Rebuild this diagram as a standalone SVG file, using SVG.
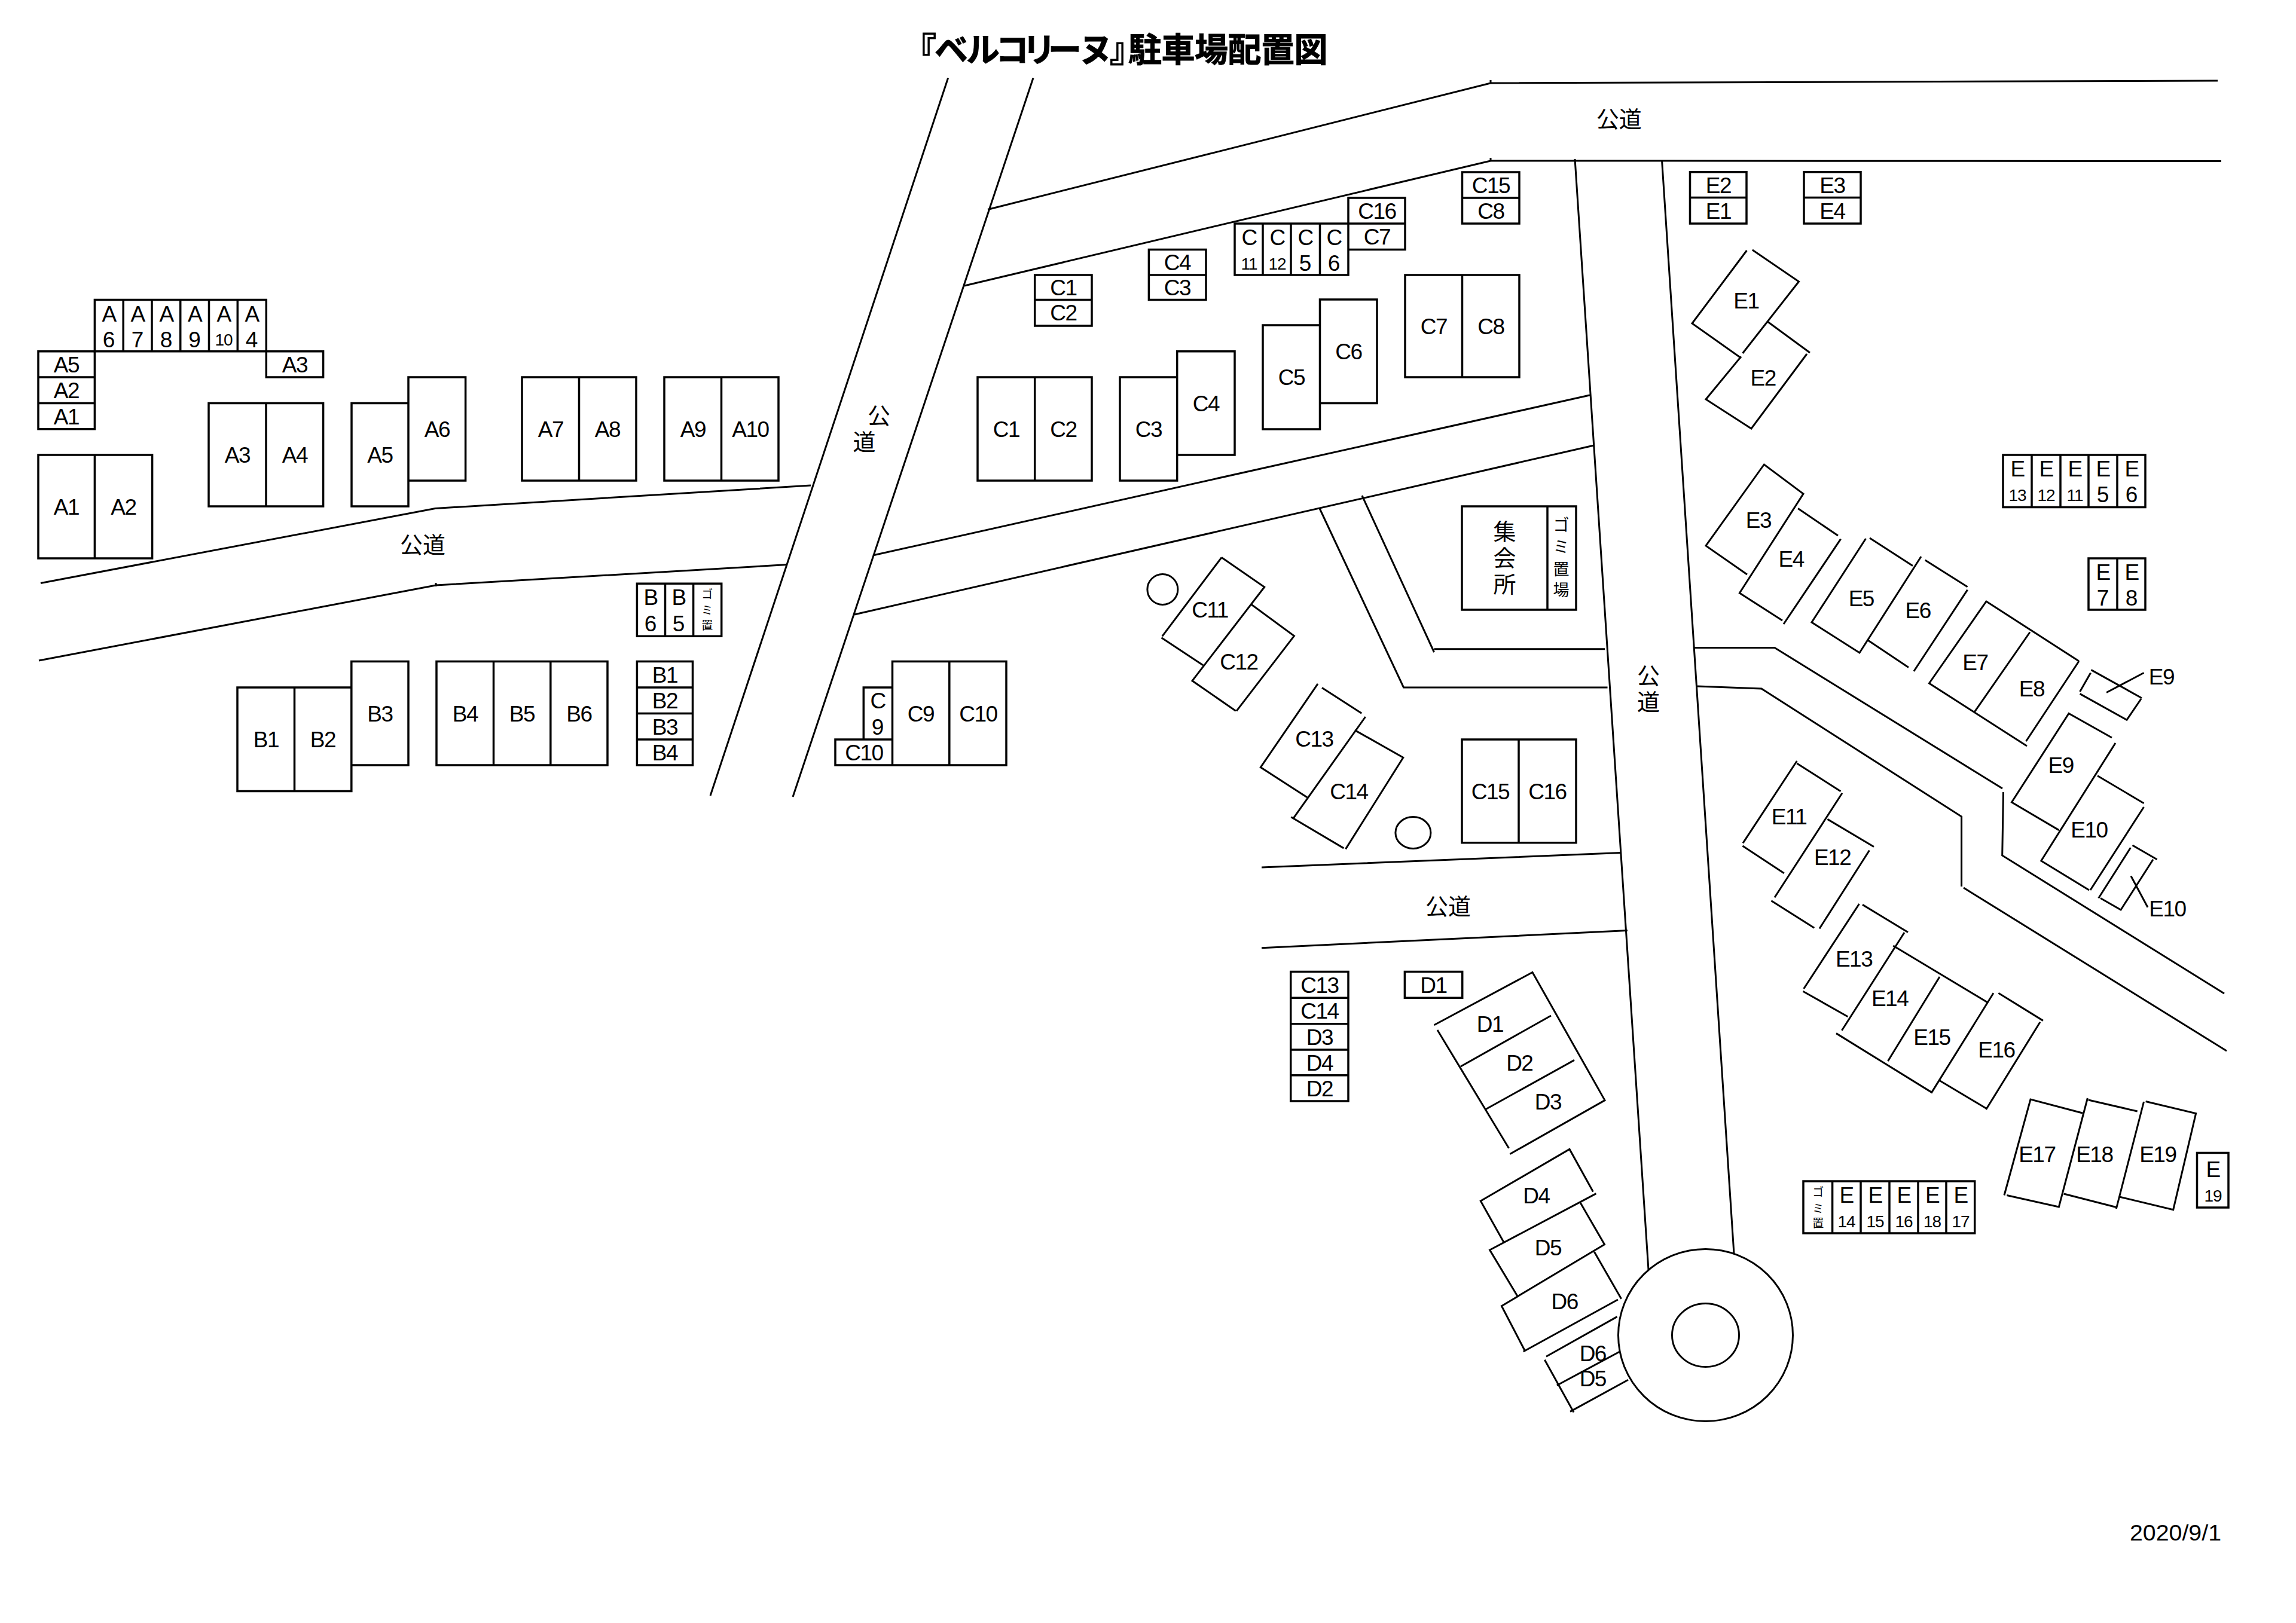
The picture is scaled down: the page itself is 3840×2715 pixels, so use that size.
<svg xmlns="http://www.w3.org/2000/svg" width="3840" height="2715" viewBox="0 0 3840 2715">
<style>
.b{fill:none;stroke:#000;stroke-width:3.5}
.l{fill:none;stroke:#000;stroke-width:3}
text{font-family:"Liberation Sans","Noto Sans CJK JP",sans-serif;fill:#000;text-anchor:middle}
.t{font-size:37px;letter-spacing:-1.5px}
.n{font-size:37px}
.s{font-size:28px;letter-spacing:-1px}
.j{font-family:"Noto Sans CJK JP","Liberation Sans",sans-serif;font-size:38px}
.g{font-family:"Noto Sans CJK JP","Liberation Sans",sans-serif;font-size:27px}
.h{font-family:"Noto Sans CJK JP","Liberation Sans",sans-serif;font-size:19px}
</style>
<rect width="3840" height="2715" fill="#fff"/>
<text id="title" x="1510 1563 1616 1665 1710 1753 1805 1856 1887 1942.500 1998 2053.500 2109 2164.500" y="103" style="font-family:'Noto Sans CJK JP',sans-serif;font-weight:700;font-size:56px;text-anchor:start;stroke:#000;stroke-width:1">『ベルコリーヌ』駐車場配置図</text>
<text id="date" x="3562" y="2577" textLength="153" lengthAdjust="spacingAndGlyphs" style="font-family:'Liberation Sans',sans-serif;font-size:37px;text-anchor:start">2020/9/1</text>
<g transform="translate(0,1)">
<g id="roads">
<path class="l" d="M1585.600 129.500L1188 1330M1728 129.500L1326 1332"/>
<path class="l" d="M68 974.500L728 849.500L1356 811M65 1104L729 978L1317 943.500M729 974V980"/>
<path class="l" d="M1652 349.500L2493 138L3709 134M1613 477L2493 268L3715 268.500M2493 133V138M2493 263V268"/>
<path class="l" d="M2634 265L2757 2123M2779.500 267L2900 2096"/>
<path class="l" d="M1460 928L2659 660M1429 1027L2666 744"/>
<path class="l" d="M2207 849.500L2347.500 1149L2688.500 1149M2278 828L2398.500 1090M2398.500 1084.700L2684 1084.700"/>
<path class="l" d="M2110 1450L2711 1425.500M2110 1584.700L2722 1555.600"/>
<path class="l" d="M2833 1082.500L2968 1082.500L3349 1318M3350.500 1324L3348.700 1430L3720 1661"/>
<path class="l" d="M2839 1147L2946 1151L3280.600 1365V1482M3284 1484L3724 1757"/>
<ellipse class="l" cx="1944.400" cy="985" rx="25.500" ry="25.500"/>
<ellipse class="l" cx="2363.400" cy="1392" rx="29.500" ry="26.500"/>
<ellipse class="l" cx="2852.500" cy="2232.500" rx="146" ry="144" style="fill:#fff"/>
<ellipse class="l" cx="2852.500" cy="2232.500" rx="56" ry="53"/>
</g>
<g id="A-stack">
<path class="b" d="M158.400 500.600H445.300V586.700H158.400ZM206.200 500.600V586.700M254 500.600V586.700M301.700 500.600V586.700M349.500 500.600V586.700M397.300 500.600V586.700"/>
<path class="b" d="M64 586.700H158.400V716.800H64ZM64 630H158.400M64 673.500H158.400M445.300 586.700H540.600V630H445.300Z"/>
<text class="t" x="182" y="537">A</text><text class="n" x="182" y="580">6</text>
<text class="t" x="230" y="537">A</text><text class="n" x="230" y="580">7</text>
<text class="t" x="278" y="537">A</text><text class="n" x="278" y="580">8</text>
<text class="t" x="325.500" y="537">A</text><text class="n" x="325.500" y="580">9</text>
<text class="t" x="374" y="537">A</text><text class="s" x="374" y="577">10</text>
<text class="t" x="421" y="537">A</text><text class="n" x="421" y="580">4</text>
<text class="t" x="111" y="622">A5</text><text class="t" x="111" y="665">A2</text><text class="t" x="111" y="709">A1</text>
<text class="t" x="493" y="622">A3</text>
</g>
<g id="A1-A2"><path class="b" d="M64 760H254.600V933H64ZM158.400 760V933"/><text class="t" x="111" y="860">A1</text><text class="t" x="206.500" y="860">A2</text></g>
<g id="A3-A4"><path class="b" d="M349 673.500H540.600V846H349ZM445 673.500V846"/><text class="t" x="397" y="773">A3</text><text class="t" x="493" y="773">A4</text></g>
<g id="A5-A6"><path class="b" d="M588 673.500H683V846H588ZM683 630H778.600V803H683Z"/><text class="t" x="635.500" y="773">A5</text><text class="t" x="731" y="730">A6</text></g>
<g id="A7-A8"><path class="b" d="M873 630H1064V803H873ZM968.500 630V803"/><text class="t" x="921" y="730">A7</text><text class="t" x="1016" y="730">A8</text></g>
<g id="A9-A10"><path class="b" d="M1111 630H1302V803H1111ZM1206.500 630V803"/><text class="t" x="1159" y="730">A9</text><text class="t" x="1255" y="730">A10</text></g>
<g id="B-stack">
<path class="b" d="M1065.400 975.300H1206.700V1063.300H1065.400ZM1112.500 975.300V1063.300M1159.600 975.300V1063.300"/>
<text class="t" x="1088" y="1011">B</text><text class="n" x="1088" y="1055">6</text>
<text class="t" x="1135" y="1011">B</text><text class="n" x="1135" y="1055">5</text>
<text class="h" x="1182.700 1182.700 1182.700" y="1000 1027 1052">ゴミ置</text>
<path class="b" d="M1065.400 1105.400H1158.500V1279H1065.400ZM1065.400 1149H1158.500M1065.400 1192.600H1158.500M1065.400 1236H1158.500"/>
<text class="t" x="1112" y="1140.500">B1</text><text class="t" x="1112" y="1184">B2</text><text class="t" x="1112" y="1227.500">B3</text><text class="t" x="1112" y="1271">B4</text>
</g>
<g id="B1-B3"><path class="b" d="M397 1149H587.800V1322.400H397ZM492.500 1149V1322.400M587.800 1105.400H683V1279H587.800Z"/><text class="t" x="445" y="1249">B1</text><text class="t" x="540" y="1249">B2</text><text class="t" x="635.500" y="1205.500">B3</text></g>
<g id="B4-B6"><path class="b" d="M730 1105.400H1016V1279H730ZM825.500 1105.400V1279M920.800 1105.400V1279"/><text class="t" x="778" y="1205.500">B4</text><text class="t" x="873" y="1205.500">B5</text><text class="t" x="968.500" y="1205.500">B6</text></g>
<g id="C9-C10"><path class="b" d="M1492.500 1105.400H1683V1279H1397V1236H1444.300V1149H1492.500ZM1492.500 1105.400V1279M1587.800 1105.400V1279M1397 1236H1492.500"/>
<text class="t" x="1468" y="1184">C</text><text class="n" x="1468" y="1228">9</text><text class="t" x="1445" y="1271">C10</text><text class="t" x="1540" y="1205.500">C9</text><text class="t" x="1636" y="1205.500">C10</text></g>
<g id="C1-C2"><path class="b" d="M1635 630H1826V803H1635ZM1730.700 630V803"/><text class="t" x="1683" y="730">C1</text><text class="t" x="1778.500" y="730">C2</text></g>
<g id="C3-C4"><path class="b" d="M1873 630H1968.700V803H1873ZM1968.700 586.700H2065V760H1968.700Z"/><text class="t" x="1921" y="730">C3</text><text class="t" x="2017" y="687">C4</text></g>
<g id="C5-C6"><path class="b" d="M2112 543H2207.500V717H2112ZM2207.500 500H2303V673.500H2207.500Z"/><text class="t" x="2160" y="643">C5</text><text class="t" x="2255.500" y="600">C6</text></g>
<g id="C7-C8"><path class="b" d="M2350 459H2541V630H2350ZM2445.500 459V630"/><text class="t" x="2398" y="558">C7</text><text class="t" x="2493.500" y="558">C8</text></g>
<g id="C-stack">
<path class="b" d="M1730.700 459H1826V544H1730.700ZM1730.700 500.600H1826M1921.400 416.500H2017V500.600H1921.400ZM1921.400 459H2017"/>
<text class="t" x="1778.500" y="493">C1</text><text class="t" x="1778.500" y="535">C2</text><text class="t" x="1969" y="451">C4</text><text class="t" x="1969" y="493">C3</text>
<path class="b" d="M2065 373H2255V459H2065ZM2112 373V459M2159 373V459M2207.500 373V459M2255 330H2350V416.500H2255ZM2255 373H2350M2445.500 287H2541V373H2445.500ZM2445.500 330H2541"/>
<text class="t" x="2089" y="409">C</text><text class="s" x="2089" y="450">11</text>
<text class="t" x="2136" y="409">C</text><text class="s" x="2136" y="450">12</text>
<text class="t" x="2183" y="409">C</text><text class="n" x="2183" y="452">5</text>
<text class="t" x="2231" y="409">C</text><text class="n" x="2231" y="452">6</text>
<text class="t" x="2303" y="365">C16</text><text class="t" x="2303" y="408">C7</text><text class="t" x="2493.500" y="322">C15</text><text class="t" x="2493.500" y="365">C8</text>
</g>
<g id="hall"><path class="b" d="M2445 846H2636V1019H2445ZM2588 846V1019"/>
<text class="j" x="2516.500 2516.500 2516.500" y="902 946 990">集会所</text>
<text class="g" x="2611 2611 2611 2611" y="887 924 961 996">ゴミ置場</text></g>
<g id="C15-C16"><path class="b" d="M2445 1236H2636V1408.700H2445ZM2540 1236V1408.700"/><text class="t" x="2492.500" y="1336">C15</text><text class="t" x="2588" y="1336">C16</text></g>
<g id="C11-C12"><path class="l" d="M2043 931.600L1943.800 1063.300M2043 931.600L2114.700 981L1994 1137.800L2066.800 1188.300M1942.500 1065.800L2012 1111.700M2093.600 1010.700L2164.400 1062.800L2068 1188.300"/><text class="t" x="2023.500" y="1032">C11</text><text class="t" x="2072" y="1119">C12</text></g>
<g id="C13-C14"><path class="l" d="M2204 1142.900L2108.300 1282.600L2186 1332.700M2211 1149.500L2277.300 1192.300M2283.700 1198L2163.800 1366.800M2265.800 1220.400L2346.800 1266.300L2250.500 1419.400M2159.300 1365.800L2247.300 1417.900"/><text class="t" x="2198" y="1248">C13</text><text class="t" x="2256" y="1335.500">C14</text></g>
<g id="street-labels">
<text class="j" x="707" y="924">公道</text><text class="j" x="2707.700" y="212">公道</text><text class="j" x="2422" y="1529">公道</text>
<text class="j" x="1470 1445.400" y="708 752">公道</text>
<text class="j" x="2757 2757" y="1143 1187">公道</text>
</g>
<g id="D-stack"><path class="b" d="M2158.700 1624.400H2255V1841H2158.700ZM2158.700 1668.300H2255M2158.700 1711.700H2255M2158.700 1755H2255M2158.700 1797.800H2255M2349.400 1624.400H2445.700V1668.300H2349.400Z"/>
<text class="t" x="2207" y="1660">C13</text><text class="t" x="2207" y="1703">C14</text><text class="t" x="2207" y="1747">D3</text><text class="t" x="2207" y="1790">D4</text><text class="t" x="2207" y="1833">D2</text><text class="t" x="2397.500" y="1660">D1</text></g>
<g id="D1-D3"><path class="l" d="M2398.500 1713.800L2563 1625.500L2684 1839.600L2525.400 1929.500M2404 1722L2523.500 1919.800M2594 1698L2443 1783M2633 1772.400L2484.600 1854.700"/><text class="t" x="2492" y="1724.500">D1</text><text class="t" x="2541.300" y="1789.500">D2</text><text class="t" x="2589" y="1854.500">D3</text></g>
<g id="D4-D6"><path class="l" d="M2515 2077L2476.300 2008L2625 1921.400L2664.400 1992.400M2669.500 1995.700L2491.600 2090L2537.500 2166.400M2642.700 2010.300L2683.500 2080.800L2511.400 2183.700L2550.300 2258.500M2666.300 2093L2711.600 2171.800M2705.900 2173L2547.700 2260"/><text class="t" x="2569.400" y="2012">D4</text><text class="t" x="2589" y="2098.500">D5</text><text class="t" x="2616.600" y="2189">D6</text></g>
<g id="D5-D6-small"><path class="l" d="M2704.600 2201.600L2586 2268.300M2709 2260L2603.800 2316.500M2723 2307.300L2626 2360.400M2583.400 2273.700L2632 2361.500"/><text class="t" x="2663.800" y="2275.500">D6</text><text class="t" x="2663.800" y="2318">D5</text></g>
<g id="E-stack"><path class="b" d="M2826.500 286.700H2921V373H2826.500ZM2826.500 329.500H2921M3017 286.700H3112V373H3017ZM3017 329.500H3112"/>
<text class="t" x="2874" y="322">E2</text><text class="t" x="2874" y="365">E1</text><text class="t" x="3064.500" y="322">E3</text><text class="t" x="3064.500" y="365">E4</text>
<path class="b" d="M3350 760H3588V847.400H3350ZM3398 760V847.400M3446 760V847.400M3493 760V847.400M3541 760V847.400M3493 933H3588V1019H3493ZM3541 933V1019"/>
<text class="t" x="3374" y="796">E</text><text class="s" x="3374" y="837">13</text><text class="t" x="3422" y="796">E</text><text class="s" x="3422" y="837">12</text><text class="t" x="3470" y="796">E</text><text class="s" x="3470" y="837">11</text><text class="t" x="3517" y="796">E</text><text class="n" x="3517" y="839">5</text><text class="t" x="3565" y="796">E</text><text class="n" x="3565" y="839">6</text>
<text class="t" x="3517" y="969">E</text><text class="n" x="3517" y="1012">7</text><text class="t" x="3565" y="969">E</text><text class="n" x="3565" y="1012">8</text>
<path class="b" d="M3016 1975H3302.700V2062H3016ZM3064.600 1975V2062M3112 1975V2062M3160 1975V2062M3208 1975V2062M3255 1975V2062M3674.500 1927.600H3727V2019H3674.500Z"/>
<text class="h" x="3040.700 3040.700 3040.700" y="2000 2028 2052">ゴミ置</text>
<text class="t" x="3088" y="2011">E</text><text class="s" x="3088" y="2052">14</text><text class="t" x="3136" y="2011">E</text><text class="s" x="3136" y="2052">15</text><text class="t" x="3184" y="2011">E</text><text class="s" x="3184" y="2052">16</text><text class="t" x="3231.500" y="2011">E</text><text class="s" x="3231.500" y="2052">18</text><text class="t" x="3279" y="2011">E</text><text class="s" x="3279" y="2052">17</text>
<text class="t" x="3701" y="1968">E</text><text class="s" x="3701" y="2009">19</text></g>
<g id="E1-E2"><path class="l" d="M2921.400 418L2830 540L2912 598M2930.800 417L3008.500 470L2914.500 590M2912 595.400L2853 667L2929 716L3022 591M3027 589L2955.500 536.500"/><text class="t" x="2920.500" y="515">E1</text><text class="t" x="2948.700" y="643.500">E2</text></g>
<g id="E3-E4"><path class="l" d="M2922 960L2853 912L2950.400 776L3016 825L2909.400 991L2981 1037M2983 1043L3078.600 900.700M3074 895L3007 849.500"/><text class="t" x="2941" y="882">E3</text><text class="t" x="2995.700" y="946.500">E4</text></g>
<g id="E5-E6"><path class="l" d="M3199 945.600L3127 899M3120.500 900L3030 1040L3110 1091L3213 930M3219.700 936L3290.600 980.700M3290.600 985.600L3200.800 1122M3124 1070L3192 1115.500"/><text class="t" x="3112.800" y="1012.500">E5</text><text class="t" x="3207.700" y="1032.500">E6</text></g>
<g id="E7-E8"><path class="l" d="M3477 1105L3322 1005L3226.500 1142L3390 1247M3395 1056.500L3302.700 1189.400M3477 1105L3388.500 1239"/><text class="t" x="3303.400" y="1119.500">E7</text><text class="t" x="3398" y="1163.500">E8</text></g>
<g id="E9-small"><path class="l" d="M3497.400 1119.600L3582 1166.700M3496.600 1124.600L3478.600 1156M3478.600 1159.600L3557 1203.300L3581 1168M3523 1157.500L3585.500 1124.500"/><text class="t" x="3615" y="1143.500">E9</text></g>
<g id="E9-E10"><path class="l" d="M3532 1233L3460 1192.400L3364.500 1341L3443.400 1387.600M3538 1242L3413.800 1439L3494 1488M3496 1488L3585.500 1349M3585.500 1342.700L3508 1296.700"/><text class="t" x="3446.600" y="1292">E9</text><text class="t" x="3494" y="1399.500">E10</text></g>
<g id="E10-small"><path class="l" d="M3563.400 1417L3509.700 1501.500M3566.500 1413L3607.600 1436.700M3601 1436.700L3547 1521L3513 1501.500M3564 1464.500L3592 1516.700"/><text class="t" x="3625" y="1531.500">E10</text></g>
<g id="E11-E12"><path class="l" d="M3005.300 1272L2915 1409.400M3005.300 1276L3078.500 1322.700M2914.400 1414L2983.800 1459.700M3081 1325.800L2968 1500.300M3056.400 1369.400L3134 1415.500M3126.500 1421.500L3043 1552.400M2962.400 1505.800L3034.300 1551.200"/><text class="t" x="2992" y="1378">E11</text><text class="t" x="3064.600" y="1446">E12</text></g>
<g id="E13-E16"><path class="l" d="M3109.500 1511L3016.700 1653M3115 1512.400L3191 1558.500M3015.400 1657.300L3090.500 1699.700M3185 1559L3080.400 1722.700M3166.300 1581L3323.500 1675.500M3071 1727.600L3230.700 1826.400L3334 1660.300M3244 1633L3157.500 1774M3342.400 1660.300L3417 1706.400M3412 1708.800L3321.600 1855M3244.600 1807L3321.600 1853"/><text class="t" x="3100.600" y="1616">E13</text><text class="t" x="3160.600" y="1681.500">E14</text><text class="t" x="3231" y="1746.500">E15</text><text class="t" x="3339" y="1767.500">E16</text></g>
<g id="E17-E19"><path class="l" d="M3352 1998.500L3396 1838L3483 1861M3356.300 1998.500L3443.400 2018L3491.400 1836M3492.700 1839L3574.700 1858M3451.600 1996L3539.400 2018.500M3585.500 1842L3539.400 2021M3588.600 1841.500L3672.600 1861.500L3634.700 2022.700L3544.400 2001"/><text class="t" x="3406.800" y="1943">E17</text><text class="t" x="3502.800" y="1943">E18</text><text class="t" x="3608.800" y="1943">E19</text></g>
</g>
</svg>
